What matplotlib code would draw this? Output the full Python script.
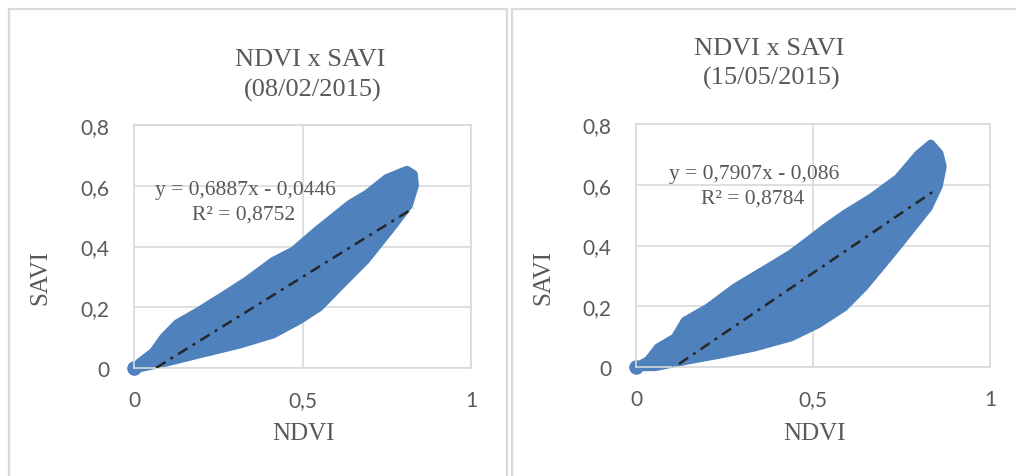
import matplotlib
matplotlib.use("Agg")
import matplotlib.pyplot as plt
from matplotlib.patches import Rectangle

# ---- data ----
titles = ["NDVI x SAVI\n(08/02/2015)", "NDVI x SAVI\n(15/05/2015)"]
equations = ["y = 0,6887x - 0,0446\nR² = 0,8752", "y = 0,7907x - 0,086\nR² = 0,8784"]
slopes = [0.6887, 0.7907]
intercepts = [-0.0446, -0.086]
trend_xmax = [0.83, 0.847]

x_ticks = [0, 0.5, 1]
x_tick_labels = ["0", "0,5", "1"]
y_ticks = [0, 0.2, 0.4, 0.6, 0.8]
y_tick_labels = ["0", "0,2", "0,4", "0,6", "0,8"]

# points at the origin (both dates)
origin_x = [0.0, 0.0]
origin_y = [0.0, 0.0]

# envelope of the point cloud, panel 1 (upper edge left->right, lower edge right->left)
p1_upper_x = [0.0, 0.018, 0.057, 0.087, 0.127, 0.196, 0.275, 0.335, 0.413, 0.473, 0.542, 0.641, 0.691, 0.75, 0.81, 0.83]
p1_upper_y = [0.0, 0.02, 0.053, 0.1, 0.146, 0.19, 0.245, 0.288, 0.352, 0.386, 0.452, 0.54, 0.573, 0.625, 0.652, 0.638]
p1_lower_x = [0.833, 0.815, 0.765, 0.688, 0.617, 0.55, 0.49, 0.413, 0.315, 0.196, 0.098, 0.018, 0.0]
p1_lower_y = [0.6, 0.535, 0.462, 0.355, 0.276, 0.2, 0.157, 0.111, 0.078, 0.046, 0.019, 0.0, 0.0]

# envelope of the point cloud, panel 2
p2_upper_x = [0.0, 0.034, 0.062, 0.11, 0.138, 0.203, 0.28, 0.373, 0.438, 0.486, 0.534, 0.59, 0.664, 0.74, 0.797, 0.833, 0.857, 0.866]
p2_upper_y = [0.0, 0.022, 0.064, 0.097, 0.152, 0.195, 0.262, 0.327, 0.373, 0.415, 0.458, 0.504, 0.557, 0.622, 0.7, 0.735, 0.703, 0.66]
p2_lower_x = [0.855, 0.826, 0.782, 0.744, 0.699, 0.644, 0.588, 0.514, 0.438, 0.336, 0.24, 0.147, 0.054, 0.0]
p2_lower_y = [0.596, 0.524, 0.46, 0.404, 0.34, 0.263, 0.197, 0.141, 0.098, 0.065, 0.042, 0.022, 0.0, 0.0]

bands = [(p1_upper_x, p1_upper_y, p1_lower_x, p1_lower_y),
         (p2_upper_x, p2_upper_y, p2_lower_x, p2_lower_y)]

# ---- layout ----
W, H = 1016, 477
fig = plt.figure(figsize=(W / 100, H / 100), dpi=100)
fig.patch.set_facecolor("white")

def fx(px):
    return px / W

def fy(py):
    return 1 - py / H

SERIF = "Liberation Serif"
SANS = "Lato"
TXT = "#595959"
GRID = "#D9D9D9"
BLUE = "#4F81BD"

# outer chart frames
for (x0, x1) in [(9, 507), (512, 1020)]:
    fig.add_artist(Rectangle((fx(x0), fy(490)), fx(x1) - fx(x0), fy(10) - fy(490),
                             transform=fig.transFigure, fill=False,
                             edgecolor=GRID, linewidth=1.6))

axes_px = [(134, 471, 126, 369), (636, 990, 125, 368)]
title_base = [((310, 66.5), (313, 96.5)), ((769, 55), (772, 85))]
eq_base = [((245, 195), (244, 220)), ((754, 179.5), (753, 203.5))]
xlabel_base = [(303, 440.5), (814, 440.5)]
ylabel_pos = [(40, 278), (543, 278)]

for i in range(2):
    l, r, t, b = axes_px[i]
    ax = fig.add_axes([fx(l), fy(b), fx(r) - fx(l), fy(t) - fy(b)])
    ax.set_xlim(0, 1)
    ax.set_ylim(0, 0.8)
    ax.set_xticks(x_ticks)
    ax.set_xticklabels(x_tick_labels)
    ax.set_yticks(y_ticks)
    ax.set_yticklabels(y_tick_labels)
    ax.tick_params(length=0, labelsize=15, labelcolor=TXT)
    ax.tick_params(axis="x", pad=16)
    ax.tick_params(axis="y", pad=18)
    for lab in ax.get_xticklabels() + ax.get_yticklabels():
        lab.set_family(SANS)
    ax.grid(True, color=GRID, linewidth=1.2)
    ax.set_axisbelow(True)
    for s in ax.spines.values():
        s.set_color(GRID)
        s.set_linewidth(1.2)

    ux, uy, lx, ly = bands[i]
    ax.fill(list(ux) + list(lx), list(uy) + list(ly), facecolor=BLUE,
            edgecolor=BLUE, linewidth=6, joinstyle="round", clip_on=False, zorder=2)
    ax.scatter([origin_x[i]], [origin_y[i]], s=110, color=BLUE, clip_on=False,
               zorder=2, linewidths=0)

    xs = [0, trend_xmax[i]]
    ys = [slopes[i] * v + intercepts[i] for v in xs]
    ax.plot(xs, ys, color="#262626", linewidth=1.8, dashes=(4.4, 2.4, 1.2, 2.4), zorder=3)

    t1, t2 = titles[i].split("\n")
    fig.text(fx(title_base[i][0][0]), fy(title_base[i][0][1]), t1, family=SERIF,
             fontsize=19, color=TXT, ha="center", va="baseline")
    fig.text(fx(title_base[i][1][0]), fy(title_base[i][1][1]), t2, family=SERIF,
             fontsize=19, color=TXT, ha="center", va="baseline")

    e1, e2 = equations[i].split("\n")
    fig.text(fx(eq_base[i][0][0]), fy(eq_base[i][0][1]), e1, family=SERIF,
             fontsize=15.5, color=TXT, ha="center", va="baseline", zorder=5)
    fig.text(fx(eq_base[i][1][0]), fy(eq_base[i][1][1]), e2, family=SERIF,
             fontsize=15.5, color=TXT, ha="center", va="baseline", zorder=5)

    fig.text(fx(xlabel_base[i][0]), fy(xlabel_base[i][1]), "NDVI", family=SERIF,
             fontsize=18, color=TXT, ha="center", va="baseline")
    fig.text(fx(ylabel_pos[i][0]), fy(ylabel_pos[i][1]), "SAVI", family=SERIF,
             fontsize=18, color=TXT, ha="center", va="center", rotation=90)

fig.savefig("out.png", dpi=100)
